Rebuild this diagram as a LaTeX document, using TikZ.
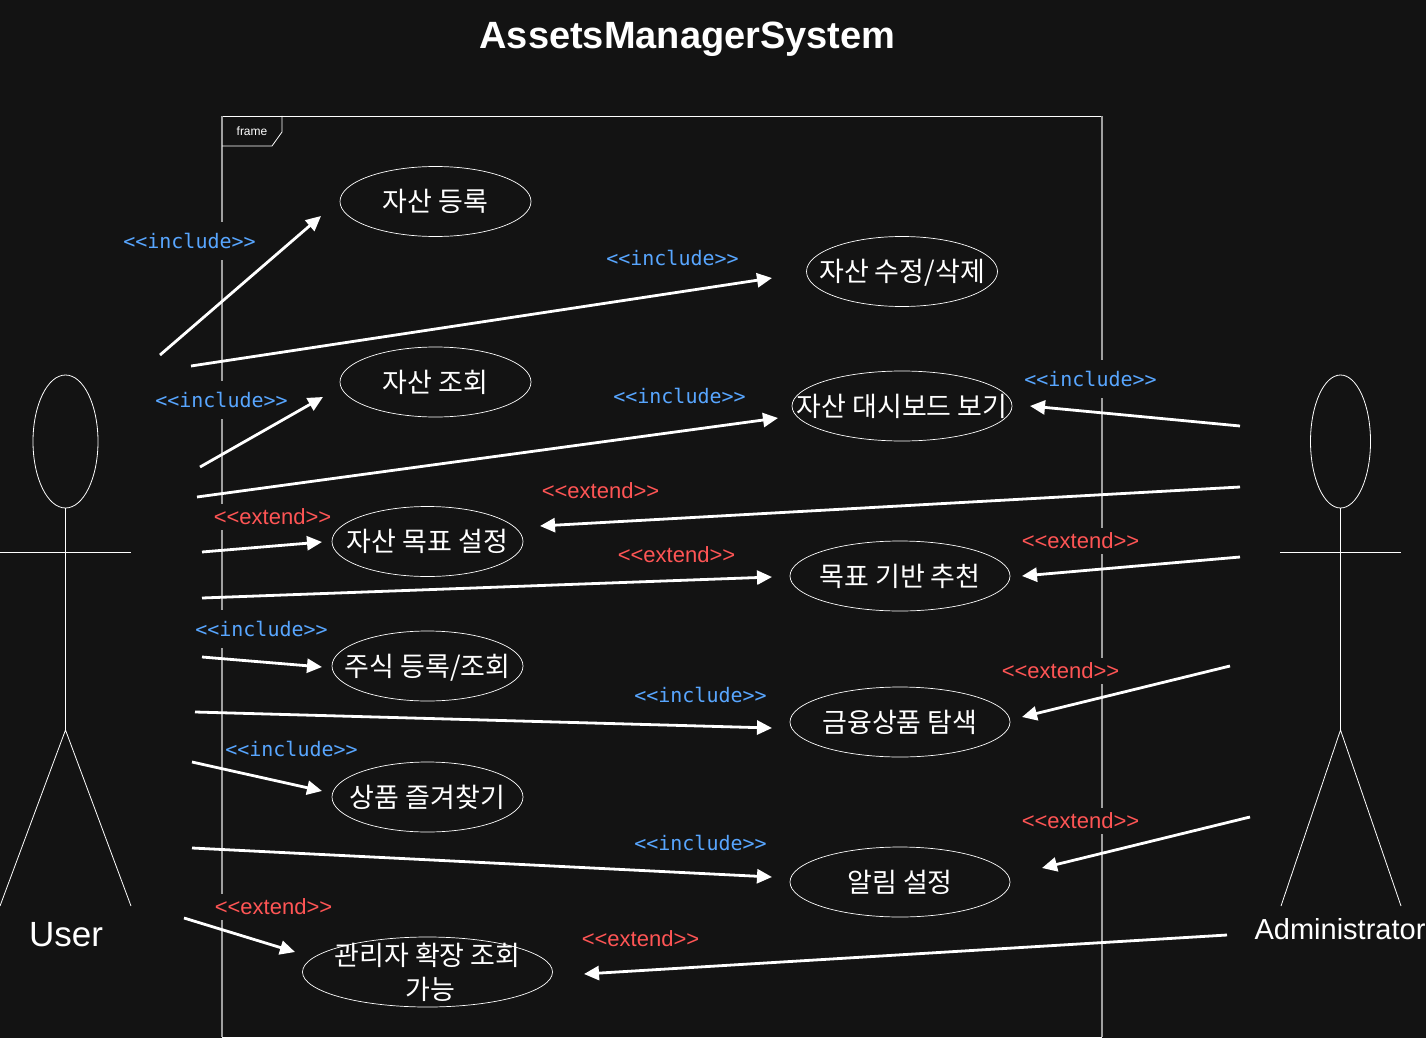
\documentclass[tikz,border=0pt]{standalone}
\usepackage{fontspec}
\setmainfont{Liberation Sans}
\newfontfamily\krfont{Noto Sans CJK KR}
\newfontfamily\monofont{DejaVu Sans Mono}
\usetikzlibrary{arrows.meta, shapes.geometric}
\definecolor{bgdark}{HTML}{131313}
\definecolor{incblue}{HTML}{58A6FF}
\definecolor{extred}{HTML}{FF5555}
\definecolor{framegray}{HTML}{A0A0A0}
\newcommand{\inctext}{<{}<include>{}>}
\newcommand{\exttext}{<{}<extend>{}>}
\tikzset{
  usecase/.style={draw=white, line width=.7pt, ellipse, inner sep=0pt, minimum height=70pt},
  casetext/.style={text=white, align=center, inner sep=0pt,
    font=\krfont\fontsize{27}{34}\selectfont},
  inclabel/.style={fill=bgdark, text=incblue, inner sep=0pt, minimum width=132pt, minimum height=38pt,
    font=\monofont\fontsize{20}{22}\selectfont},
  extlabel/.style={fill=bgdark, text=extred, inner sep=0pt, minimum width=118pt, minimum height=26pt,
    font=\fontsize{22}{24}\selectfont},
  assoc/.style={draw=white, line width=2.8pt, -{Triangle[length=15pt,width=14pt]}},
  figline/.style={draw=white, line width=.8pt}
}
\begin{document}
\begin{tikzpicture}[x=1pt, y=-1pt]
\useasboundingbox (0,0) rectangle (1426,1038);
\fill[bgdark] (0,0) rectangle (1426,1038);
\node[text=white, font=\bfseries\fontsize{38}{40}\selectfont] (title) at (687.5,39) {AssetsManagerSystem};
% frame
\draw[white, line width=.8pt] (222,116)--(1102,116);
\draw[white, line width=.8pt] (222,1037)--(1102,1037);
\draw[framegray, line width=1.3pt] (222,116)--(222,1037);
\draw[framegray, line width=1.3pt] (1102,116)--(1102,1037);
\draw[white, line width=.8pt] (222,146)--(272,146)--(282,132)--(282,116);
\node[text=white, font=\fontsize{12}{14}\selectfont] (frametag) at (252,131) {frame};
% user
\node[figline, ellipse, minimum width=65pt, minimum height=133pt, inner sep=0pt] (userhead) at (65.5,441.5) {};
\coordinate (userhip) at (65.5,730);
\draw[figline] (userhead.south)--(userhip);
\draw[figline] (0,552)--(131,552);
\draw[figline] (0,906)--(userhip)--(131,906);
\node[text=white, font=\fontsize{35}{38}\selectfont] (user) at (66,935) {User};
% administrator
\node[figline, ellipse, minimum width=60pt, minimum height=133pt, inner sep=0pt] (adminhead) at (1340.5,441.5) {};
\coordinate (adminhip) at (1340.5,730);
\draw[figline] (adminhead.south)--(adminhip);
\draw[figline] (1280,552)--(1401,552);
\draw[figline] (1281,906)--(adminhip)--(1401,906);
\node[text=white, font=\fontsize{29}{32}\selectfont] (admin) at (1340,929) {Administrator};
% use cases
\node[usecase, minimum width=191pt, label={[casetext]center:자산 등록}] (register) at (435.5,201.5) {};
\node[usecase, minimum width=191pt, label={[casetext, yshift=-1pt]center:자산 수정/삭제}] (edit) at (902,271.5) {};
\node[usecase, minimum width=191pt, label={[casetext]center:자산 조회}] (lookup) at (435.5,382) {};
\node[usecase, minimum width=220pt, label={[casetext]center:자산 대시보드 보기}] (dashboard) at (902,406) {};
\node[usecase, minimum width=191pt, label={[casetext]center:자산 목표 설정}] (goal) at (427.5,541.5) {};
\node[usecase, minimum width=220pt, label={[casetext]center:목표 기반 추천}] (recommend) at (900,576) {};
\node[usecase, minimum width=191pt, label={[casetext, yshift=-2pt]center:주식 등록/조회}] (stock) at (427.5,666) {};
\node[usecase, minimum width=220pt, label={[casetext]center:금융상품 탐색}] (browse) at (900,722) {};
\node[usecase, minimum width=191pt, label={[casetext]center:상품 즐겨찾기}] (favorite) at (427.5,797) {};
\node[usecase, minimum width=220pt, label={[casetext]center:알림 설정}] (alarm) at (900,882) {};
\node[usecase, minimum width=250pt, label={[casetext]center:{관리자 확장 조회\\\hspace*{6pt}가능}}] (extended) at (427.5,972) {};
% labels
\node[inclabel] (inca) at (189.5,241) {\inctext};
\node[inclabel] (incb) at (672.5,258) {\inctext};
\node[inclabel] (incc) at (221.5,400) {\inctext};
\node[inclabel] (incd) at (679.5,396) {\inctext};
\node[inclabel] (ince) at (1090.5,379) {\inctext};
\node[inclabel] (incf) at (261.5,629) {\inctext};
\node[inclabel] (incg) at (700.5,695) {\inctext};
\node[inclabel] (inch) at (291.5,749) {\inctext};
\node[inclabel] (inci) at (700.5,843) {\inctext};
\node[extlabel] (exta) at (600.5,491) {\exttext};
\node[extlabel] (extb) at (272.5,517) {\exttext};
\node[extlabel] (extc) at (676.5,555) {\exttext};
\node[extlabel] (extd) at (1080.5,541) {\exttext};
\node[extlabel] (exte) at (1060.5,671) {\exttext};
\node[extlabel] (extf) at (1080.5,821) {\exttext};
\node[extlabel] (extg) at (273.5,907) {\exttext};
\node[extlabel] (exth) at (640.5,939) {\exttext};
% arrow ends
\coordinate (ua) at (160,355);  \coordinate (ta) at (321,216);
\coordinate (ub) at (191,366);  \coordinate (tb) at (772,278);
\coordinate (uc) at (200,467);  \coordinate (tc) at (323,397);
\coordinate (ud) at (197,497);  \coordinate (td) at (778,418);
\coordinate (ue) at (202,552);  \coordinate (te) at (322,542);
\coordinate (uf) at (202,598);  \coordinate (tf) at (772,577);
\coordinate (ug) at (202,657);  \coordinate (tg) at (322,667);
\coordinate (uh) at (195,712);  \coordinate (th) at (772,728);
\coordinate (ui) at (192,762);  \coordinate (ti) at (322,791);
\coordinate (uj) at (192,848);  \coordinate (tj) at (772,877);
\coordinate (uk) at (184,918);  \coordinate (tk) at (295,952);
\coordinate (aa) at (1240,426); \coordinate (sa) at (1030,406);
\coordinate (ab) at (1240,487); \coordinate (sb) at (540,526);
\coordinate (ac) at (1240,557); \coordinate (sc) at (1022,576);
\coordinate (ad) at (1230,666); \coordinate (sd) at (1022,717);
\coordinate (ae) at (1250,817); \coordinate (se) at (1042,868);
\coordinate (af) at (1227,935); \coordinate (sf) at (584,974);
% user arrows
\draw[assoc] (ua)--(ta);
\draw[assoc] (ub)--(tb);
\draw[assoc] (uc)--(tc);
\draw[assoc] (ud)--(td);
\draw[assoc] (ue)--(te);
\draw[assoc] (uf)--(tf);
\draw[assoc] (ug)--(tg);
\draw[assoc] (uh)--(th);
\draw[assoc] (ui)--(ti);
\draw[assoc] (uj)--(tj);
\draw[assoc] (uk)--(tk);
% administrator arrows
\draw[assoc] (aa)--(sa);
\draw[assoc] (ab)--(sb);
\draw[assoc] (ac)--(sc);
\draw[assoc] (ad)--(sd);
\draw[assoc] (ae)--(se);
\draw[assoc] (af)--(sf);
\end{tikzpicture}
\end{document}
